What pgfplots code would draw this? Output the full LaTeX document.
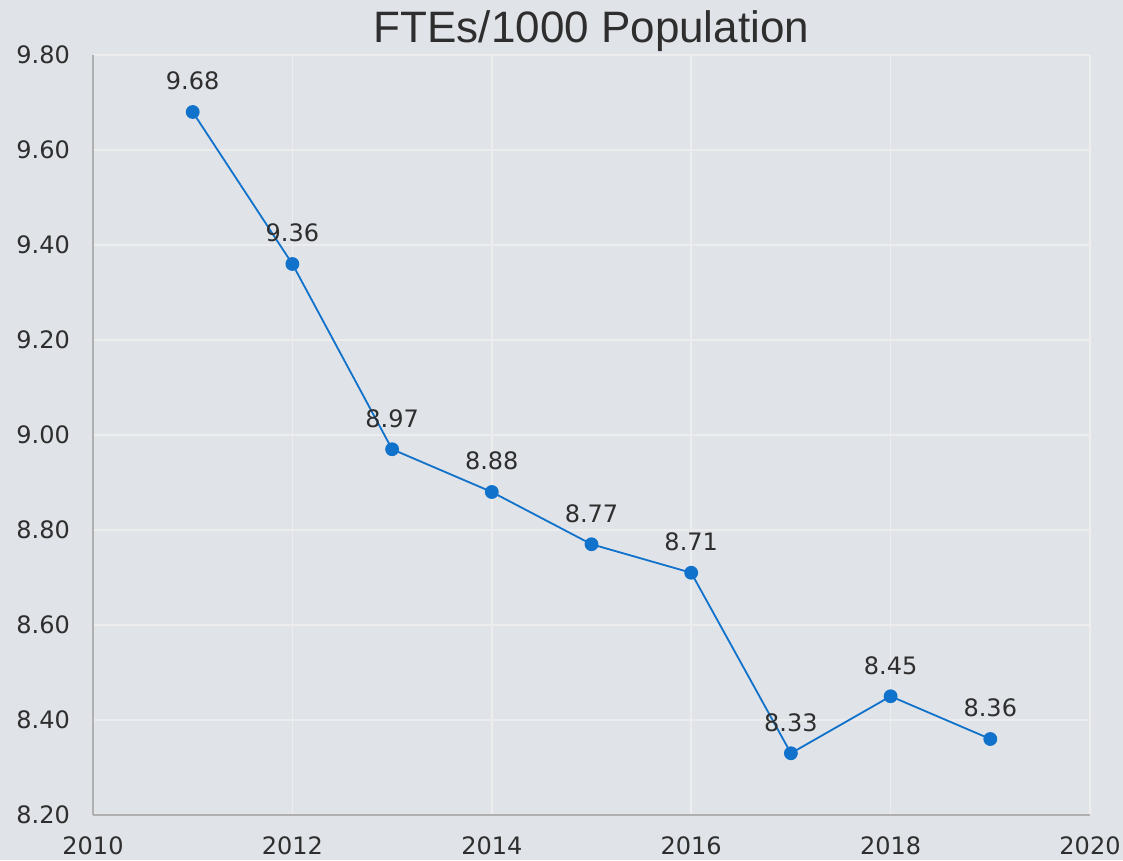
\documentclass[border=0pt]{standalone}
\usepackage{pgfplots}
\pgfplotsset{compat=1.18}
\usepackage{fontspec}
\setmainfont{Liberation Sans}
\newfontfamily\numfont{DejaVu Sans}
\definecolor{bgc}{HTML}{E0E3E8}
\definecolor{gridc}{HTML}{EDEDED}
\definecolor{axc}{HTML}{B0B0B0}
\definecolor{linec}{RGB}{16,114,202}
\definecolor{txtc}{HTML}{2E2E2E}
\begin{document}
\begin{tikzpicture}
\fill[bgc] (-93pt,-45pt) rectangle (1030pt,815pt);
\begin{axis}[
  at={(0pt,0pt)}, anchor=south west,
  scale only axis,
  width=997pt, height=760pt,
  xmin=2010, xmax=2020, ymin=8.2, ymax=9.8,
  xtick={2010,2012,...,2020},
  ytick={8.2,8.4,...,9.81},
  axis lines=left,
  axis line style={axc, line width=1.5pt},
  x axis line style={-}, y axis line style={-},
  grid=major,
  major grid style={gridc, line width=1.5pt},
  major tick length=0pt,
  /pgf/number format/assume math mode=true,
  xticklabel style={font=\numfont\fontsize{24}{29}\selectfont, text=txtc, inner sep=0pt, anchor=north, yshift=-21pt, /pgf/number format/1000 sep={}},
  yticklabel style={font=\numfont\fontsize{24}{29}\selectfont, text=txtc, inner sep=0pt, anchor=east, xshift=-23pt, /pgf/number format/fixed, /pgf/number format/precision=2, /pgf/number format/fixed zerofill},
  title={FTEs/1000 Population},
  title style={font=\fontsize{44}{52}\selectfont, text=txtc, at={(0.5,1)}, anchor=base, yshift=6pt, inner sep=0pt},
  nodes near coords,
  nodes near coords style={font=\numfont\fontsize{24}{29}\selectfont, text=txtc, anchor=south, inner sep=0pt, yshift=21pt, /pgf/number format/fixed, /pgf/number format/precision=2, /pgf/number format/fixed zerofill},
]
\addplot[linec, line width=1.8pt, mark=*, mark size=6pt, mark options={fill=linec, draw=linec}] coordinates {
  (2011,9.68) (2012,9.36) (2013,8.97) (2014,8.88) (2015,8.77)
  (2016,8.71) (2017,8.33) (2018,8.45) (2019,8.36)
};
\end{axis}
\end{tikzpicture}
\end{document}
